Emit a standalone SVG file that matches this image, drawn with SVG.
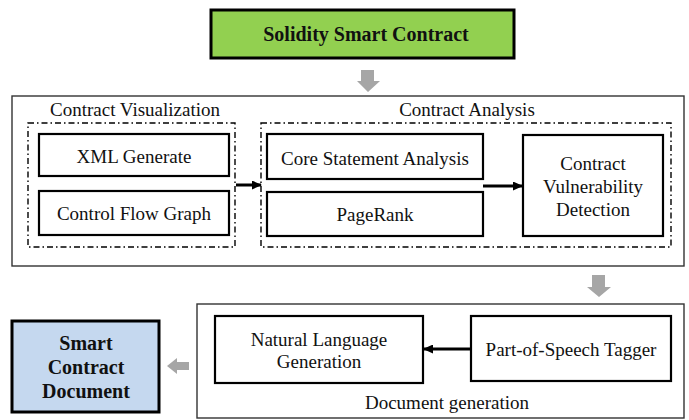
<svg xmlns="http://www.w3.org/2000/svg" width="689" height="420" viewBox="0 0 689 420">
  <defs>
    <style>
      text { font-family: "Liberation Serif", "Times New Roman", serif; font-size: 19px; fill: #111; text-anchor: middle; }
      .b { font-weight: bold; font-size: 20px; }
      .box { fill: #fff; stroke: #000; stroke-width: 2.2; }
      .outer { fill: #fff; stroke: #333; stroke-width: 1.4; }
      .dash { fill: none; stroke: #000; stroke-width: 1.4; stroke-dasharray: 6 3 1.5 3; }
      .flow { stroke: #000; stroke-width: 3; fill: none; marker-end: url(#ah); }
      .gray { fill: #a6a6a6; }
    </style>
    <marker id="ah" markerWidth="3.4" markerHeight="3" refX="3" refY="1.5" orient="auto" markerUnits="strokeWidth">
      <path d="M0,0 L3.4,1.5 L0,3 z" fill="#000"/>
    </marker>
  </defs>

  <rect width="689" height="420" fill="#fff"/>

  <!-- top input -->
  <g id="solidity">
    <rect x="211" y="10" width="303" height="48" fill="#92d050" stroke="#000" stroke-width="3"/>
    <text class="b" x="366" y="41">Solidity Smart Contract</text>
  </g>

  <!-- analysis stage -->
  <g id="analysis-stage">
    <rect class="outer" x="12" y="96" width="672" height="170"/>
  </g>
  <g id="visualization">
    <rect class="dash" x="28" y="123" width="207" height="124"/>
    <text x="135" y="116">Contract Visualization</text>
  </g>
  <g id="xml-generate">
    <rect class="box" x="39" y="134" width="190" height="42"/>
    <text x="134" y="163">XML Generate</text>
  </g>
  <g id="control-flow-graph">
    <rect class="box" x="39" y="191" width="190" height="44"/>
    <text x="134" y="220">Control Flow Graph</text>
  </g>
  <g id="contract-analysis">
    <rect class="dash" x="261" y="123" width="410" height="124"/>
    <text x="467" y="116">Contract Analysis</text>
  </g>
  <g id="core-statement">
    <rect class="box" x="267" y="134" width="216" height="45"/>
    <text x="375" y="165">Core Statement Analysis</text>
  </g>
  <g id="pagerank">
    <rect class="box" x="267" y="192" width="216" height="44"/>
    <text x="375" y="221">PageRank</text>
  </g>
  <g id="vulnerability">
    <rect class="box" x="523" y="135" width="140" height="101"/>
    <text x="593" y="170">Contract</text>
    <text x="593" y="193">Vulnerability</text>
    <text x="593" y="216">Detection</text>
  </g>

  <!-- document stage -->
  <g id="document-stage">
    <rect class="outer" x="197" y="304" width="487" height="114"/>
    <text x="447" y="409">Document generation</text>
  </g>
  <g id="nlg">
    <rect class="box" x="215" y="316" width="208" height="67"/>
    <text x="319" y="346">Natural Language</text>
    <text x="319" y="368">Generation</text>
  </g>
  <g id="pos-tagger">
    <rect class="box" x="471" y="316" width="200" height="65"/>
    <text x="571" y="356">Part-of-Speech Tagger</text>
  </g>

  <!-- output -->
  <g id="document">
    <rect x="12" y="321" width="147" height="91" fill="#c5d8ef" stroke="#000" stroke-width="3"/>
    <text class="b" x="86" y="350">Smart</text>
    <text class="b" x="86" y="374">Contract</text>
    <text class="b" x="86" y="398">Document</text>
  </g>

  <!-- connectors -->
  <g id="connectors">
    <line class="flow" x1="236" y1="185" x2="261" y2="185"/>
    <line class="flow" x1="483" y1="186" x2="522" y2="186"/>
    <line class="flow" x1="471" y1="349" x2="424" y2="349"/>
    <polygon class="gray" points="361,70 374,70 374,81 380,81 368,92 357,81 361,81"/>
    <polygon class="gray" points="592,275 605,275 605,287 611,287 599,297 587,287 592,287"/>
    <polygon class="gray" points="189,362 189,370 177,370 177,374 167,366 177,358 177,362"/>
  </g>
</svg>
